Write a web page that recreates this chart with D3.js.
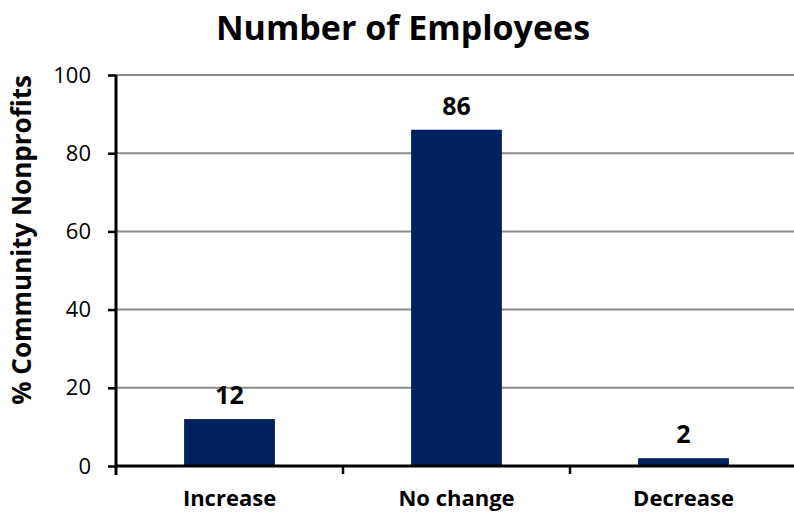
<!DOCTYPE html>
<meta charset="utf-8">
<body style="margin:0">
<script src="https://d3js.org/d3.v7.min.js"></script>
<script>
  var categories = ["Increase", "No change", "Decrease"];
  var values = [12, 86, 2];
  var yTicks = [0, 20, 40, 60, 80, 100];

  var font = "'Open Sans', sans-serif";

  var svg = d3.select("body").append("svg")
          .attr("width", 794)
          .attr("height", 514)
          .style("font-family", font);

  var x = d3.scaleBand().domain(categories).range([116, 797])
          .paddingInner(0.6).paddingOuter(0.3);
  var y = d3.scaleLinear().domain([0, 100]).range([466, 75]);

  // gridlines
  svg.append("g").selectAll("line")
          .data(yTicks.slice(1))
          .enter().append("line")
          .attr("x1", 116).attr("x2", 794)
          .attr("y1", function(d) { return y(d); })
          .attr("y2", function(d) { return y(d); })
          .attr("stroke", "#8c8c8c")
          .attr("stroke-width", 2);

  svg.selectAll("rect.bar")
          .data(values)
          .enter().append("rect")
          .attr("class", "bar")
          .attr("x", function(d, i) { return x(categories[i]); })
          .attr("width", x.bandwidth())
          .attr("y", function(d) { return y(d); })
          .attr("height", function(d) { return y(0) - y(d); })
          .attr("fill", "#002060");

  svg.selectAll("text.val")
          .data(values)
          .enter().append("text")
          .attr("class", "val")
          .attr("x", function(d, i) { return x(categories[i]) + x.bandwidth() / 2; })
          .attr("y", function(d) { return y(d) - 15; })
          .attr("text-anchor", "middle")
          .style("font-size", "25px")
          .style("font-weight", "bold")
          .text(function(d) { return d; });

  // y axis
  var yAxis = svg.append("g")
          .attr("transform", "translate(116,0)")
          .call(d3.axisLeft(y).tickValues(yTicks).tickSize(8).tickPadding(17));
  yAxis.select(".domain").attr("stroke", "#000").attr("stroke-width", 3)
          .attr("d", "M0,75V475");
  yAxis.selectAll(".tick line").attr("stroke", "#000").attr("stroke-width", 2.5);
  yAxis.selectAll(".tick text").style("font-size", "22px").style("font-family", font)
          .attr("fill", "#000");

  // x axis
  var xAxis = svg.append("g")
          .attr("transform", "translate(0,466)")
          .call(d3.axisBottom(x).tickSize(0).tickPadding(24));
  xAxis.select(".domain").attr("stroke", "#000").attr("stroke-width", 3)
          .attr("d", "M116,0H794");
  xAxis.selectAll(".tick text").style("font-size", "22px").style("font-weight", "bold")
          .style("font-family", font).attr("fill", "#000");
  // separators between categories
  xAxis.selectAll("line.sep")
          .data(categories.slice(1))
          .enter().append("line")
          .attr("class", "sep")
          .attr("x1", function(d) { return x(d) - x.step() * x.paddingInner() / 2; })
          .attr("x2", function(d) { return x(d) - x.step() * x.paddingInner() / 2; })
          .attr("y1", 0).attr("y2", 8)
          .attr("stroke", "#000").attr("stroke-width", 2.5);

  svg.append("text")
          .attr("x", 403).attr("y", 40)
          .attr("text-anchor", "middle")
          .style("font-size", "34px").style("font-weight", "bold")
          .text("Number of Employees");

  svg.append("text")
          .attr("transform", "translate(31,240) rotate(-90)")
          .attr("text-anchor", "middle")
          .style("font-size", "26px").style("font-weight", "bold")
          .text("% Community Nonprofits");
</script>
</body>
</html>
